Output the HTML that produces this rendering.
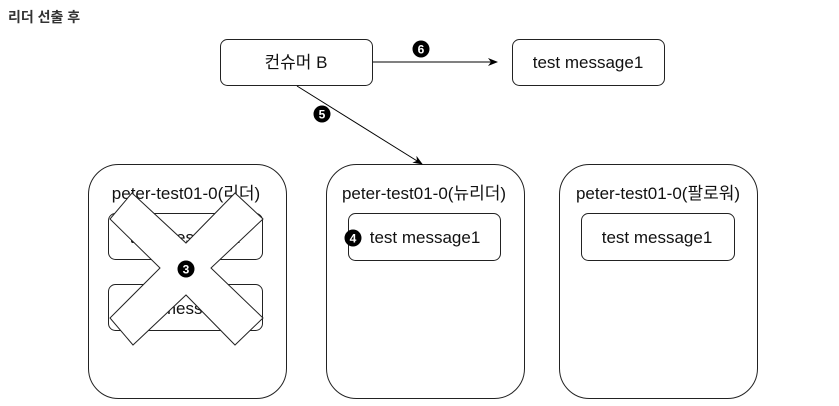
<!DOCTYPE html>
<html><head><meta charset="utf-8"><style>
html,body{margin:0;padding:0;background:#fff;width:839px;height:406px;overflow:hidden}
svg text{font-family:"Liberation Sans","Noto Sans CJK KR",sans-serif;fill:#111}
</style></head><body>
<svg width="839" height="406" viewBox="0 0 839 406" xmlns="http://www.w3.org/2000/svg">
<defs><marker id="a" markerWidth="10" markerHeight="8" refX="9" refY="4" orient="auto" markerUnits="userSpaceOnUse"><path d="M0,0 L10,4 L0,8 L3,4 Z" fill="#000"/></marker></defs>
<text x="8" y="22" font-size="14" font-weight="bold" style="fill:#333">리더 선출 후</text>
<g fill="#fff" stroke="#222" stroke-width="1">
<rect x="220.5" y="39.5" width="152" height="46" rx="7"/>
<rect x="512.5" y="39.5" width="152" height="46" rx="7"/>
<rect x="88.5" y="164.5" width="198" height="234" rx="30"/>
<rect x="326.5" y="164.5" width="198" height="234" rx="30"/>
<rect x="559.5" y="164.5" width="198" height="234" rx="30"/>
<rect x="108.5" y="213.5" width="154" height="46" rx="7"/>
<rect x="108.5" y="284.5" width="154" height="46" rx="7"/>
<rect x="348.5" y="213.5" width="152" height="47" rx="7"/>
<rect x="581.5" y="213.5" width="153" height="47" rx="7"/>
</g>
<line x1="373" y1="62" x2="497" y2="62" stroke="#000" stroke-width="1" marker-end="url(#a)"/>
<line x1="297" y1="86" x2="422" y2="164" stroke="#000" stroke-width="1" marker-end="url(#a)"/>
<g font-size="17" text-anchor="middle">
<text x="296" y="68">컨슈머 B</text>
<text x="588" y="68">test message1</text>
<text x="186" y="199">peter-test01-0(리더)</text>
<text x="424" y="199">peter-test01-0(뉴리더)</text>
<text x="658" y="199">peter-test01-0(팔로워)</text>
<text x="185" y="243">test message1</text>
<text x="185" y="314">test message1</text>
<text x="425" y="243">test message1</text>
<text x="657" y="243">test message1</text>
</g>
<polygon points="132,193 186,243 235,193 263,219 211,268 263,318 235,345 186,295 133,345 110,318 160,268 110,219" fill="#fff" stroke="#222" stroke-width="1"/>
<g font-size="12" font-weight="bold" text-anchor="middle">
<circle cx="186" cy="269" r="8.5" fill="#000"/><text x="186" y="273.5" style="fill:#fff">3</text>
<circle cx="353" cy="238" r="8.5" fill="#000"/><text x="353" y="242.5" style="fill:#fff">4</text>
<circle cx="322" cy="114" r="8.5" fill="#000"/><text x="322" y="118.5" style="fill:#fff">5</text>
<circle cx="421" cy="49" r="8.5" fill="#000"/><text x="421" y="53.5" style="fill:#fff">6</text>
</g>
</svg>
</body></html>
